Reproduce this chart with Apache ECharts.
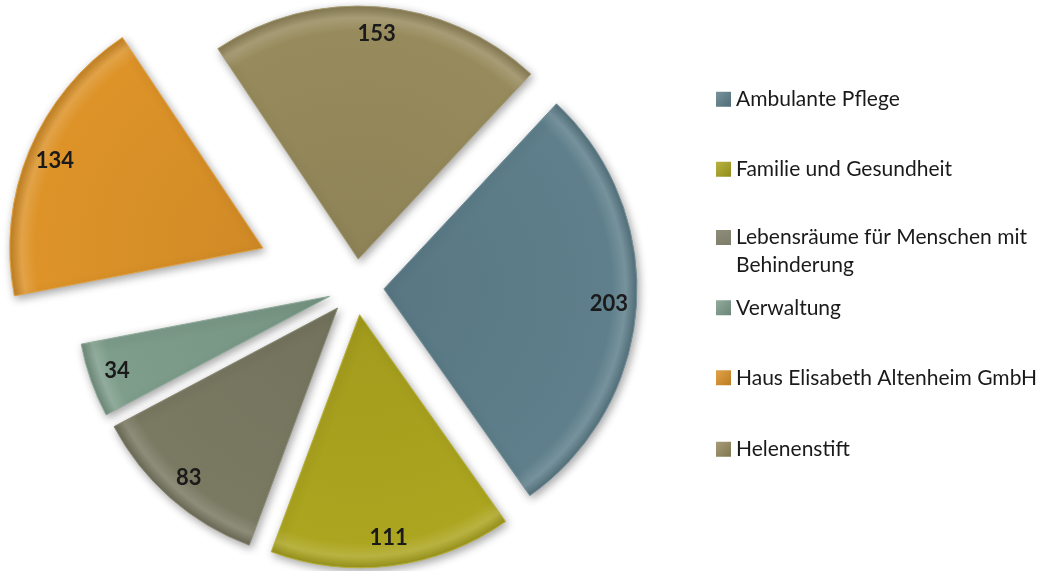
<!DOCTYPE html>
<html>
<head>
<meta charset="utf-8">
<title>Mitarbeitende</title>
<script src="https://cdn.jsdelivr.net/npm/echarts@6/dist/echarts.min.js"></script>
<style>
  html, body { margin: 0; padding: 0; background: #ffffff; }
  #chart { width: 1041px; height: 571px; }
</style>
</head>
<body>
<div id="chart"></div>
<script>
// Daten
var categories = ['Ambulante Pflege', 'Familie und Gesundheit', 'Lebensräume für Menschen mit Behinderung',
    'Verwaltung', 'Haus Elisabeth Altenheim GmbH', 'Helenenstift'];
var values = [203, 111, 83, 34, 134, 153];
var colors = ['#5e7f8b', '#aca51f', '#7a7962', '#7e9d8b', '#dd9328', '#978b5d'];
// das weit herausgezogene Stück
var farSlice = 'Haus Elisabeth Altenheim GmbH';

var CX = 356, CY = 287, R = 253;

// Farbe aufhellen / abdunkeln
function mix(hex, target, t) {
    var c = parseInt(hex.slice(1), 16);
    var r = c >> 16, g = (c >> 8) & 255, b = c & 255;
    r = Math.round(r + (target - r) * t);
    g = Math.round(g + (target - g) * t);
    b = Math.round(b + (target - b) * t);
    return 'rgb(' + r + ',' + g + ',' + b + ')';
}

function bevel(col) {
    return {
        type: 'radial', x: CX, y: CY, r: R, global: true,
        colorStops: [
            { offset: 0, color: mix(col, 0, 0.06) },
            { offset: 0.9, color: col },
            { offset: 0.955, color: mix(col, 255, 0.15) },
            { offset: 1, color: mix(col, 0, 0.12) }
        ]
    };
}

function sliceData(far, forLabel) {
    return categories.map(function (name, i) {
        var visible = (name === farSlice) === far;
        return {
            name: name,
            value: values[i],
            selected: true,
            itemStyle: forLabel ? { color: 'transparent' } : {
                color: bevel(colors[i]),
                opacity: visible ? 1 : 0,
                borderColor: mix(colors[i], 255, 0.12),
                borderWidth: visible ? 1 : 0
            },
            label: { show: forLabel && visible }
        };
    });
}

function pieSeries(far, forLabel) {
    return {
        type: 'pie',
        center: [CX, CY],
        radius: forLabel ? [192, R] : [0, R],
        startAngle: 47,
        clockwise: true,
        selectedMode: 'multiple',
        selectedOffset: far ? 101 : 28,
        avoidLabelOverlap: false,
        silent: true,
        animation: false,
        z: forLabel ? 5 : 2,
        itemStyle: forLabel ? {} : {
            shadowBlur: 8,
            shadowColor: 'rgba(0,0,0,0.35)',
            shadowOffsetX: 2,
            shadowOffsetY: 3
        },
        label: {
            position: 'inside',
            formatter: '{c}',
            fontFamily: 'Lato',
            fontWeight: 'bold',
            fontSize: 22,
            color: '#1a1a1a'
        },
        labelLine: { show: false },
        emphasis: { disabled: true },
        data: sliceData(far, forLabel)
    };
}

// Legende: eine Komponente je Eintrag, damit die Abstände wie im Original sind
var legendTops = [85.5, 155.5, 223.75, 294, 364, 435.5];
var legends = categories.map(function (name, i) {
    var twoLine = name.length > 35;
    return {
        left: 716,
        top: legendTops[i],
        padding: 0,
        orient: 'vertical',
        // zweizeiliger Eintrag: Quadrat oben, auf Höhe der ersten Zeile
        icon: twoLine ? 'path://M0,0 L15,0 L15,15 L0,15 Z M0,42.5 L15,42.5' : 'rect',
        itemWidth: 15,
        itemHeight: twoLine ? 42.5 : 15,
        itemGap: 5,
        selectedMode: false,
        textStyle: {
            fontFamily: 'Lato',
            fontSize: 21,
            lineHeight: 27.5,
            color: '#1a1a1a',
            width: 318,
            overflow: 'break'
        },
        data: [{
            name: name,
            itemStyle: {
                color: {
                    type: 'linear', x: 0, y: 0, x2: 1, y2: 1,
                    colorStops: [
                        { offset: 0, color: mix(colors[i], 255, 0.15) },
                        { offset: 1, color: mix(colors[i], 0, 0.15) }
                    ]
                },
                opacity: 1,
                borderWidth: 0
            }
        }]
    };
});

var option = {
    backgroundColor: '#ffffff',
    animation: false,
    legend: legends,
    series: [
        pieSeries(false, false),
        pieSeries(true, false),
        pieSeries(false, true),
        pieSeries(true, true)
    ]
};

var chart = echarts.init(document.getElementById('chart'));
chart.setOption(option);
</script>
</body>
</html>
